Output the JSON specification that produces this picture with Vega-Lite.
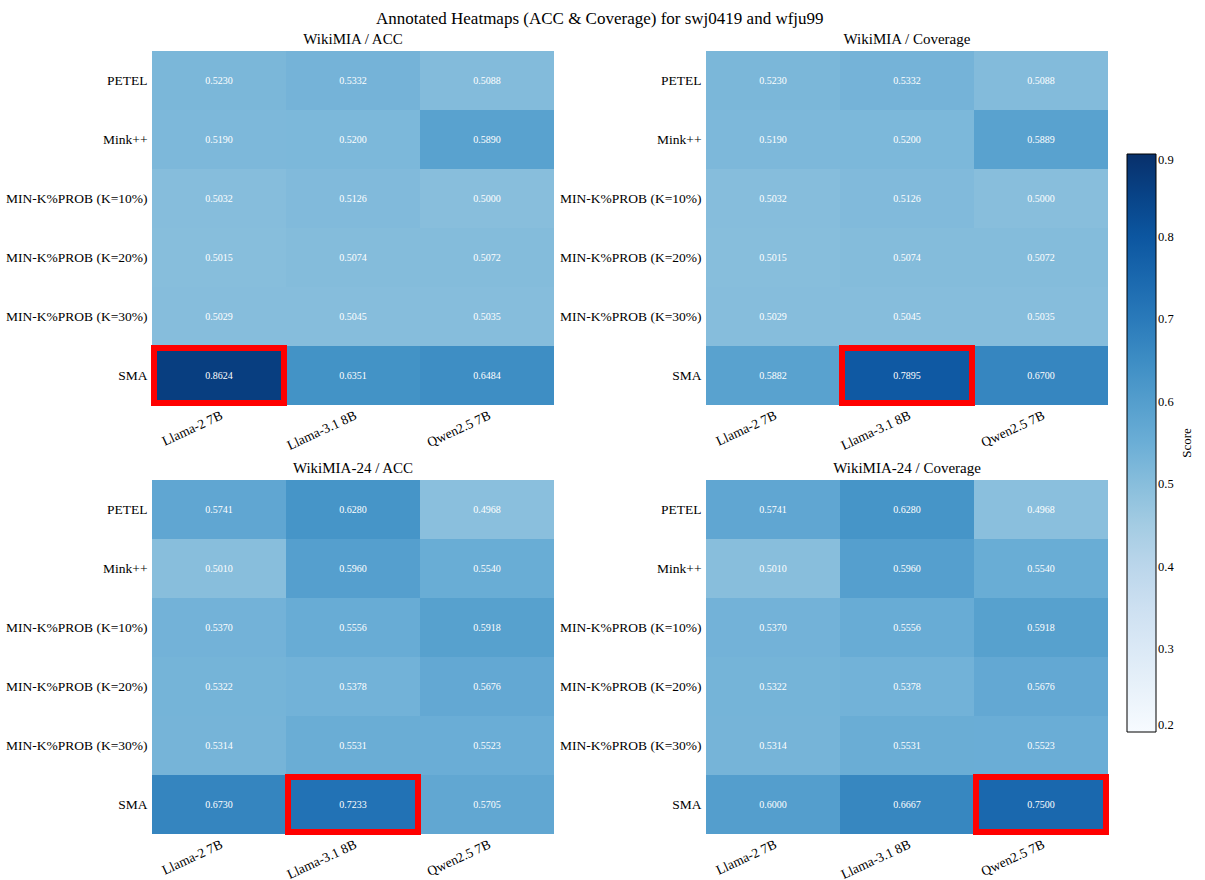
{
  "$schema": "https://vega.github.io/schema/vega-lite/v6.json",
  "background": "white",
  "padding": {"left": 5, "top": 10, "right": 0, "bottom": 0},
  "autosize": {"type": "pad"},
  "title": {
    "text": "Annotated Heatmaps (ACC & Coverage) for swj0419 and wfju99",
    "font": "Liberation Serif",
    "fontSize": 17,
    "fontWeight": "normal",
    "color": "black",
    "anchor": "middle",
    "offset": 4
  },
  "datasets": {
    "scores": [
      {"panel": "WikiMIA / ACC", "method": "PETEL", "model": "Llama-2 7B", "value": 0.5230},
      {"panel": "WikiMIA / ACC", "method": "PETEL", "model": "Llama-3.1 8B", "value": 0.5332},
      {"panel": "WikiMIA / ACC", "method": "PETEL", "model": "Qwen2.5 7B", "value": 0.5088},
      {"panel": "WikiMIA / ACC", "method": "Mink++", "model": "Llama-2 7B", "value": 0.5190},
      {"panel": "WikiMIA / ACC", "method": "Mink++", "model": "Llama-3.1 8B", "value": 0.5200},
      {"panel": "WikiMIA / ACC", "method": "Mink++", "model": "Qwen2.5 7B", "value": 0.5890},
      {"panel": "WikiMIA / ACC", "method": "MIN-K%PROB (K=10%)", "model": "Llama-2 7B", "value": 0.5032},
      {"panel": "WikiMIA / ACC", "method": "MIN-K%PROB (K=10%)", "model": "Llama-3.1 8B", "value": 0.5126},
      {"panel": "WikiMIA / ACC", "method": "MIN-K%PROB (K=10%)", "model": "Qwen2.5 7B", "value": 0.5000},
      {"panel": "WikiMIA / ACC", "method": "MIN-K%PROB (K=20%)", "model": "Llama-2 7B", "value": 0.5015},
      {"panel": "WikiMIA / ACC", "method": "MIN-K%PROB (K=20%)", "model": "Llama-3.1 8B", "value": 0.5074},
      {"panel": "WikiMIA / ACC", "method": "MIN-K%PROB (K=20%)", "model": "Qwen2.5 7B", "value": 0.5072},
      {"panel": "WikiMIA / ACC", "method": "MIN-K%PROB (K=30%)", "model": "Llama-2 7B", "value": 0.5029},
      {"panel": "WikiMIA / ACC", "method": "MIN-K%PROB (K=30%)", "model": "Llama-3.1 8B", "value": 0.5045},
      {"panel": "WikiMIA / ACC", "method": "MIN-K%PROB (K=30%)", "model": "Qwen2.5 7B", "value": 0.5035},
      {"panel": "WikiMIA / ACC", "method": "SMA", "model": "Llama-2 7B", "value": 0.8624},
      {"panel": "WikiMIA / ACC", "method": "SMA", "model": "Llama-3.1 8B", "value": 0.6351},
      {"panel": "WikiMIA / ACC", "method": "SMA", "model": "Qwen2.5 7B", "value": 0.6484},

      {"panel": "WikiMIA / Coverage", "method": "PETEL", "model": "Llama-2 7B", "value": 0.5230},
      {"panel": "WikiMIA / Coverage", "method": "PETEL", "model": "Llama-3.1 8B", "value": 0.5332},
      {"panel": "WikiMIA / Coverage", "method": "PETEL", "model": "Qwen2.5 7B", "value": 0.5088},
      {"panel": "WikiMIA / Coverage", "method": "Mink++", "model": "Llama-2 7B", "value": 0.5190},
      {"panel": "WikiMIA / Coverage", "method": "Mink++", "model": "Llama-3.1 8B", "value": 0.5200},
      {"panel": "WikiMIA / Coverage", "method": "Mink++", "model": "Qwen2.5 7B", "value": 0.5889},
      {"panel": "WikiMIA / Coverage", "method": "MIN-K%PROB (K=10%)", "model": "Llama-2 7B", "value": 0.5032},
      {"panel": "WikiMIA / Coverage", "method": "MIN-K%PROB (K=10%)", "model": "Llama-3.1 8B", "value": 0.5126},
      {"panel": "WikiMIA / Coverage", "method": "MIN-K%PROB (K=10%)", "model": "Qwen2.5 7B", "value": 0.5000},
      {"panel": "WikiMIA / Coverage", "method": "MIN-K%PROB (K=20%)", "model": "Llama-2 7B", "value": 0.5015},
      {"panel": "WikiMIA / Coverage", "method": "MIN-K%PROB (K=20%)", "model": "Llama-3.1 8B", "value": 0.5074},
      {"panel": "WikiMIA / Coverage", "method": "MIN-K%PROB (K=20%)", "model": "Qwen2.5 7B", "value": 0.5072},
      {"panel": "WikiMIA / Coverage", "method": "MIN-K%PROB (K=30%)", "model": "Llama-2 7B", "value": 0.5029},
      {"panel": "WikiMIA / Coverage", "method": "MIN-K%PROB (K=30%)", "model": "Llama-3.1 8B", "value": 0.5045},
      {"panel": "WikiMIA / Coverage", "method": "MIN-K%PROB (K=30%)", "model": "Qwen2.5 7B", "value": 0.5035},
      {"panel": "WikiMIA / Coverage", "method": "SMA", "model": "Llama-2 7B", "value": 0.5882},
      {"panel": "WikiMIA / Coverage", "method": "SMA", "model": "Llama-3.1 8B", "value": 0.7895},
      {"panel": "WikiMIA / Coverage", "method": "SMA", "model": "Qwen2.5 7B", "value": 0.6700},

      {"panel": "WikiMIA-24 / ACC", "method": "PETEL", "model": "Llama-2 7B", "value": 0.5741},
      {"panel": "WikiMIA-24 / ACC", "method": "PETEL", "model": "Llama-3.1 8B", "value": 0.6280},
      {"panel": "WikiMIA-24 / ACC", "method": "PETEL", "model": "Qwen2.5 7B", "value": 0.4968},
      {"panel": "WikiMIA-24 / ACC", "method": "Mink++", "model": "Llama-2 7B", "value": 0.5010},
      {"panel": "WikiMIA-24 / ACC", "method": "Mink++", "model": "Llama-3.1 8B", "value": 0.5960},
      {"panel": "WikiMIA-24 / ACC", "method": "Mink++", "model": "Qwen2.5 7B", "value": 0.5540},
      {"panel": "WikiMIA-24 / ACC", "method": "MIN-K%PROB (K=10%)", "model": "Llama-2 7B", "value": 0.5370},
      {"panel": "WikiMIA-24 / ACC", "method": "MIN-K%PROB (K=10%)", "model": "Llama-3.1 8B", "value": 0.5556},
      {"panel": "WikiMIA-24 / ACC", "method": "MIN-K%PROB (K=10%)", "model": "Qwen2.5 7B", "value": 0.5918},
      {"panel": "WikiMIA-24 / ACC", "method": "MIN-K%PROB (K=20%)", "model": "Llama-2 7B", "value": 0.5322},
      {"panel": "WikiMIA-24 / ACC", "method": "MIN-K%PROB (K=20%)", "model": "Llama-3.1 8B", "value": 0.5378},
      {"panel": "WikiMIA-24 / ACC", "method": "MIN-K%PROB (K=20%)", "model": "Qwen2.5 7B", "value": 0.5676},
      {"panel": "WikiMIA-24 / ACC", "method": "MIN-K%PROB (K=30%)", "model": "Llama-2 7B", "value": 0.5314},
      {"panel": "WikiMIA-24 / ACC", "method": "MIN-K%PROB (K=30%)", "model": "Llama-3.1 8B", "value": 0.5531},
      {"panel": "WikiMIA-24 / ACC", "method": "MIN-K%PROB (K=30%)", "model": "Qwen2.5 7B", "value": 0.5523},
      {"panel": "WikiMIA-24 / ACC", "method": "SMA", "model": "Llama-2 7B", "value": 0.6730},
      {"panel": "WikiMIA-24 / ACC", "method": "SMA", "model": "Llama-3.1 8B", "value": 0.7233},
      {"panel": "WikiMIA-24 / ACC", "method": "SMA", "model": "Qwen2.5 7B", "value": 0.5705},

      {"panel": "WikiMIA-24 / Coverage", "method": "PETEL", "model": "Llama-2 7B", "value": 0.5741},
      {"panel": "WikiMIA-24 / Coverage", "method": "PETEL", "model": "Llama-3.1 8B", "value": 0.6280},
      {"panel": "WikiMIA-24 / Coverage", "method": "PETEL", "model": "Qwen2.5 7B", "value": 0.4968},
      {"panel": "WikiMIA-24 / Coverage", "method": "Mink++", "model": "Llama-2 7B", "value": 0.5010},
      {"panel": "WikiMIA-24 / Coverage", "method": "Mink++", "model": "Llama-3.1 8B", "value": 0.5960},
      {"panel": "WikiMIA-24 / Coverage", "method": "Mink++", "model": "Qwen2.5 7B", "value": 0.5540},
      {"panel": "WikiMIA-24 / Coverage", "method": "MIN-K%PROB (K=10%)", "model": "Llama-2 7B", "value": 0.5370},
      {"panel": "WikiMIA-24 / Coverage", "method": "MIN-K%PROB (K=10%)", "model": "Llama-3.1 8B", "value": 0.5556},
      {"panel": "WikiMIA-24 / Coverage", "method": "MIN-K%PROB (K=10%)", "model": "Qwen2.5 7B", "value": 0.5918},
      {"panel": "WikiMIA-24 / Coverage", "method": "MIN-K%PROB (K=20%)", "model": "Llama-2 7B", "value": 0.5322},
      {"panel": "WikiMIA-24 / Coverage", "method": "MIN-K%PROB (K=20%)", "model": "Llama-3.1 8B", "value": 0.5378},
      {"panel": "WikiMIA-24 / Coverage", "method": "MIN-K%PROB (K=20%)", "model": "Qwen2.5 7B", "value": 0.5676},
      {"panel": "WikiMIA-24 / Coverage", "method": "MIN-K%PROB (K=30%)", "model": "Llama-2 7B", "value": 0.5314},
      {"panel": "WikiMIA-24 / Coverage", "method": "MIN-K%PROB (K=30%)", "model": "Llama-3.1 8B", "value": 0.5531},
      {"panel": "WikiMIA-24 / Coverage", "method": "MIN-K%PROB (K=30%)", "model": "Qwen2.5 7B", "value": 0.5523},
      {"panel": "WikiMIA-24 / Coverage", "method": "SMA", "model": "Llama-2 7B", "value": 0.6000},
      {"panel": "WikiMIA-24 / Coverage", "method": "SMA", "model": "Llama-3.1 8B", "value": 0.6667},
      {"panel": "WikiMIA-24 / Coverage", "method": "SMA", "model": "Qwen2.5 7B", "value": 0.7500}
    ]
  },
  "data": {"name": "scores"},
  "columns": 2,
  "spacing": {"row": 9, "column": 5},
  "resolve": {"scale": {"color": "shared"}},
  "concat": [
    {
      "title": "WikiMIA / ACC",
      "width": 402,
      "height": 354,
      "transform": [{"filter": "datum.panel === 'WikiMIA / ACC'"}],
      "encoding": {
        "x": {"field": "model", "type": "nominal", "sort": ["Llama-2 7B", "Llama-3.1 8B", "Qwen2.5 7B"], "title": null},
        "y": {"field": "method", "type": "nominal", "sort": ["PETEL", "Mink++", "MIN-K%PROB (K=10%)", "MIN-K%PROB (K=20%)", "MIN-K%PROB (K=30%)", "SMA"], "title": null}
      },
      "layer": [
        {
          "mark": {"type": "rect"},
          "encoding": {
            "color": {
              "field": "value", "type": "quantitative",
              "scale": {
                "domain": [0.2, 0.2875, 0.375, 0.4625, 0.55, 0.6375, 0.725, 0.8125, 0.9],
                "range": ["#f7fbff", "#deebf7", "#c6dbef", "#9ecae1", "#6baed6", "#4292c6", "#2171b5", "#08519c", "#08306b"],
                "interpolate": "rgb"
              },
              "legend": {
                "title": "Score",
                "values": [0.2, 0.3, 0.4, 0.5, 0.6, 0.7, 0.8, 0.9],
                "format": ".1f",
                "encode": {"title": {"update": {"angle": {"value": -90}}}}
              }
            }
          }
        },
        {
          "mark": {"type": "text", "color": "white", "font": "Liberation Serif", "fontSize": 10},
          "encoding": {"text": {"field": "value", "type": "quantitative", "format": ".4f"}}
        },
        {
          "transform": [
            {"joinaggregate": [{"op": "max", "field": "value", "as": "best"}]},
            {"filter": "datum.value === datum.best"}
          ],
          "mark": {"type": "rect", "filled": false, "stroke": "#ff0000", "strokeWidth": 6, "width": {"band": 0.97}, "height": {"band": 0.93}},
          "encoding": {}
        }
      ]
    },
    {
      "title": "WikiMIA / Coverage",
      "width": 402,
      "height": 354,
      "transform": [{"filter": "datum.panel === 'WikiMIA / Coverage'"}],
      "encoding": {
        "x": {"field": "model", "type": "nominal", "sort": ["Llama-2 7B", "Llama-3.1 8B", "Qwen2.5 7B"], "title": null},
        "y": {"field": "method", "type": "nominal", "sort": ["PETEL", "Mink++", "MIN-K%PROB (K=10%)", "MIN-K%PROB (K=20%)", "MIN-K%PROB (K=30%)", "SMA"], "title": null}
      },
      "layer": [
        {
          "mark": {"type": "rect"},
          "encoding": {"color": {"field": "value", "type": "quantitative"}}
        },
        {
          "mark": {"type": "text", "color": "white", "font": "Liberation Serif", "fontSize": 10},
          "encoding": {"text": {"field": "value", "type": "quantitative", "format": ".4f"}}
        },
        {
          "transform": [
            {"joinaggregate": [{"op": "max", "field": "value", "as": "best"}]},
            {"filter": "datum.value === datum.best"}
          ],
          "mark": {"type": "rect", "filled": false, "stroke": "#ff0000", "strokeWidth": 6, "width": {"band": 0.97}, "height": {"band": 0.93}},
          "encoding": {}
        }
      ]
    },
    {
      "title": "WikiMIA-24 / ACC",
      "width": 402,
      "height": 354,
      "transform": [{"filter": "datum.panel === 'WikiMIA-24 / ACC'"}],
      "encoding": {
        "x": {"field": "model", "type": "nominal", "sort": ["Llama-2 7B", "Llama-3.1 8B", "Qwen2.5 7B"], "title": null},
        "y": {"field": "method", "type": "nominal", "sort": ["PETEL", "Mink++", "MIN-K%PROB (K=10%)", "MIN-K%PROB (K=20%)", "MIN-K%PROB (K=30%)", "SMA"], "title": null}
      },
      "layer": [
        {
          "mark": {"type": "rect"},
          "encoding": {"color": {"field": "value", "type": "quantitative"}}
        },
        {
          "mark": {"type": "text", "color": "white", "font": "Liberation Serif", "fontSize": 10},
          "encoding": {"text": {"field": "value", "type": "quantitative", "format": ".4f"}}
        },
        {
          "transform": [
            {"joinaggregate": [{"op": "max", "field": "value", "as": "best"}]},
            {"filter": "datum.value === datum.best"}
          ],
          "mark": {"type": "rect", "filled": false, "stroke": "#ff0000", "strokeWidth": 6, "width": {"band": 0.97}, "height": {"band": 0.93}},
          "encoding": {}
        }
      ]
    },
    {
      "title": "WikiMIA-24 / Coverage",
      "width": 402,
      "height": 354,
      "transform": [{"filter": "datum.panel === 'WikiMIA-24 / Coverage'"}],
      "encoding": {
        "x": {"field": "model", "type": "nominal", "sort": ["Llama-2 7B", "Llama-3.1 8B", "Qwen2.5 7B"], "title": null},
        "y": {"field": "method", "type": "nominal", "sort": ["PETEL", "Mink++", "MIN-K%PROB (K=10%)", "MIN-K%PROB (K=20%)", "MIN-K%PROB (K=30%)", "SMA"], "title": null}
      },
      "layer": [
        {
          "mark": {"type": "rect"},
          "encoding": {"color": {"field": "value", "type": "quantitative"}}
        },
        {
          "mark": {"type": "text", "color": "white", "font": "Liberation Serif", "fontSize": 10},
          "encoding": {"text": {"field": "value", "type": "quantitative", "format": ".4f"}}
        },
        {
          "transform": [
            {"joinaggregate": [{"op": "max", "field": "value", "as": "best"}]},
            {"filter": "datum.value === datum.best"}
          ],
          "mark": {"type": "rect", "filled": false, "stroke": "#ff0000", "strokeWidth": 6, "width": {"band": 0.97}, "height": {"band": 0.93}},
          "encoding": {}
        }
      ]
    }
  ],
  "config": {
    "view": {"stroke": null},
    "scale": {"bandPaddingInner": 0, "bandPaddingOuter": 0},
    "title": {"font": "Liberation Serif", "fontSize": 15, "fontWeight": "normal", "color": "black", "offset": 4},
    "axis": {
      "labelFont": "Liberation Serif",
      "labelFontSize": 13.5,
      "labelColor": "black",
      "ticks": false,
      "domain": false,
      "grid": false,
      "labelPadding": 4,
      "labelLimit": 300
    },
    "axisX": {"labelAngle": -25, "labelAlign": "right", "labelBaseline": "top", "labelPadding": 3},
    "axisY": {"labelPadding": 5},
    "legend": {
      "orient": "none",
      "legendX": 975,
      "legendY": 103,
      "direction": "vertical",
      "gradientLength": 578,
      "gradientThickness": 29,
      "gradientVerticalMaxLength": 600,
      "gradientVerticalMinLength": 100,
      "gradientStrokeColor": "black",
      "gradientStrokeWidth": 1,
      "labelFont": "Liberation Serif",
      "labelFontSize": 12.5,
      "labelColor": "black",
      "labelOffset": 9,
      "titleFont": "Liberation Serif",
      "titleFontSize": 13,
      "titleFontWeight": "normal",
      "titleColor": "black",
      "titleOrient": "right",
      "titleAnchor": "middle",
      "titlePadding": 20
    }
  }
}
